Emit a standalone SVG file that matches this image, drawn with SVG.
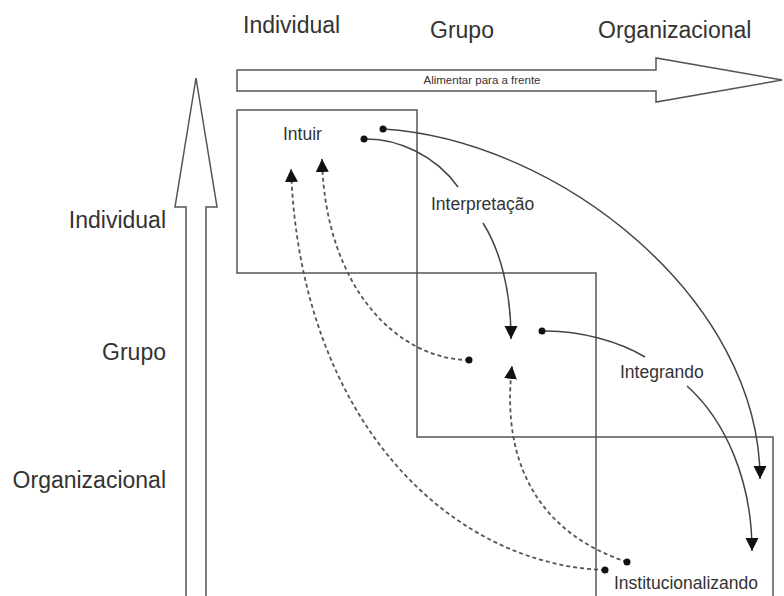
<svg xmlns="http://www.w3.org/2000/svg" width="784" height="596" viewBox="0 0 784 596">
<defs>
<style>
.lbl{font-family:"Liberation Sans",Arial,sans-serif;fill:#333;}
.axis{font-size:23px;}
.node{font-size:17.5px;}
.box{fill:none;stroke:#555;stroke-width:1.5;}
.big{fill:#fff;stroke:#555;stroke-width:1.5;}
.c{fill:none;stroke:#444;stroke-width:1.5;}
.d{fill:none;stroke:#555;stroke-width:1.8;stroke-dasharray:4 3;}
.dot{fill:#111;}
</style>
<marker id="ah" viewBox="0 0 10 10" refX="10" refY="5" markerUnits="userSpaceOnUse" markerWidth="13" markerHeight="15" orient="auto">
<path d="M0,0 L10,5 L0,10 z" fill="#111"/>
</marker>
</defs>

<g id="feedforward">
<polygon class="big" points="237,70 656,70 656,58 782,80 656,102 656,91 237,91"/>
<text class="lbl" x="482" y="84" font-size="11.5" text-anchor="middle">Alimentar para a frente</text>
</g>
<g id="feedback">
<polygon class="big" points="196,78 217,207 206,207 206,600 186,600 186,207 175,207"/>
</g>

<g id="headers">
<text class="lbl axis" x="243" y="33">Individual</text>
<text class="lbl axis" x="430" y="38">Grupo</text>
<text class="lbl axis" x="598" y="38">Organizacional</text>
<text class="lbl axis" x="166" y="228" text-anchor="end">Individual</text>
<text class="lbl axis" x="166" y="360" text-anchor="end">Grupo</text>
<text class="lbl axis" x="166" y="488" text-anchor="end">Organizacional</text>
</g>

<g id="box-individual"><rect class="box" x="237" y="110" width="180" height="163"/></g>
<g id="box-grupo"><rect class="box" x="417" y="273" width="179" height="164"/></g>
<g id="box-organizacional"><rect class="box" x="596" y="437" width="177" height="170"/></g>

<g id="node-intuir"><text class="lbl node" x="283" y="140">Intuir</text></g>
<g id="node-interpretacao"><text class="lbl node" x="431" y="210">Interpretação</text></g>
<g id="node-integrando"><text class="lbl node" x="620" y="378">Integrando</text></g>
<g id="node-institucionalizando"><text class="lbl node" x="614" y="589">Institucionalizando</text></g>

<g id="connectors">
<path class="c" d="M383,129 C560,140 760,300 760,479" marker-end="url(#ah)"/>
<path class="c" d="M364,139 C398,138 436,156 458,187"/>
<path class="c" d="M483,223 C500,250 511,290 511,339" marker-end="url(#ah)"/>
<path class="c" d="M542,331 C580,330 620,342 645,357"/>
<path class="c" d="M687,386 C725,420 752,480 752,551" marker-end="url(#ah)"/>
<path class="d" d="M469,360 C400,360 325,290 322,159" marker-end="url(#ah)"/>
<path class="d" d="M605,570 C450,565 300,420 291,169" marker-end="url(#ah)"/>
<path class="d" d="M627,562 C545,535 500,470 512,366" marker-end="url(#ah)"/>
<circle class="dot" cx="383" cy="129" r="3.5"/>
<circle class="dot" cx="364" cy="139" r="3.5"/>
<circle class="dot" cx="542" cy="331" r="3.5"/>
<circle class="dot" cx="469" cy="360" r="3.5"/>
<circle class="dot" cx="605" cy="570" r="3.5"/>
<circle class="dot" cx="627" cy="562" r="3.5"/>
</g>
</svg>
